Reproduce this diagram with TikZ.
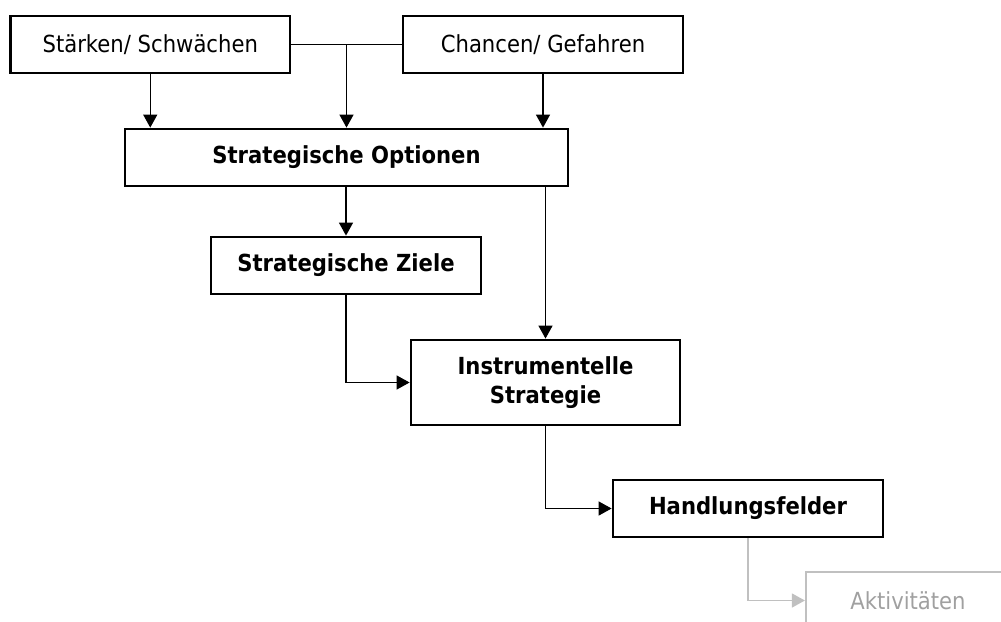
\documentclass[tikz,border=0pt]{standalone}
\usepackage{fontspec}
\setmainfont[FakeStretch=0.9]{DejaVu Sans}
\usetikzlibrary{arrows.meta,calc}
\definecolor{lgray}{HTML}{C0C0C0}
\definecolor{tgray}{HTML}{A0A0A0}
\tikzset{
  box/.style={draw, line width=2.8pt, rectangle, align=center, inner sep=0pt, font=\fontsize{23.5}{29}\selectfont},
  bbox/.style={box, font=\fontsize{23.5}{29}\selectfont\bfseries},
  gbox/.style={box, draw=lgray, text=tgray, line width=2.2pt},
  conn/.style={line width=1.4pt, -{Triangle[length=13pt,width=14pt]}},
  gconn/.style={conn, draw=lgray, -{Triangle[length=13pt,width=14pt,fill=lgray]}},
  plain/.style={line width=1.4pt}
}
\begin{document}
\begin{tikzpicture}[x=1pt,y=-1pt]
\useasboundingbox (0,0) rectangle (1001,621);
\clip (0,0) rectangle (1001,621);
\node[box, minimum width=279.5pt, minimum height=57pt] (sw) at (150.25,44.5) {Stärken/ Schwächen};
\node[box, minimum width=280pt, minimum height=57pt] (cg) at (543,44.5) {Chancen/ Gefahren};
\node[bbox, minimum width=443pt, minimum height=57pt] (so) at (346.5,157.5) {Strategische Optionen};
\node[bbox, minimum width=270pt, minimum height=57pt] (sz) at (346,265.5) {Strategische Ziele};
\node[bbox, minimum width=269pt, minimum height=85pt] (is) at (545.5,382.5) {Instrumentelle\\Strategie};
\node[bbox, minimum width=270pt, minimum height=57pt] (hf) at (748,508.5) {Handlungsfelder};
\node[gbox, minimum width=204pt, minimum height=57pt] (ak) at (908,600.5) {Aktivitäten};
\draw[plain] (sw.east) -- (cg.west);
\draw[conn] (so.north |- sw.east) -- (so.north);
\draw[conn] (sw.south) -- (sw.south |- so.north);
\draw[conn] (cg.south) -- (cg.south |- so.north);
\draw[conn] (sz.north |- so.south) -- (sz.north);
\draw[conn] (is.north |- so.south) -- (is.north);
\draw[conn] (sz.south) |- (is.west);
\draw[conn] (is.south) |- (hf.west);
\draw[gconn] (hf.south) |- (ak.west);
\end{tikzpicture}
\end{document}
